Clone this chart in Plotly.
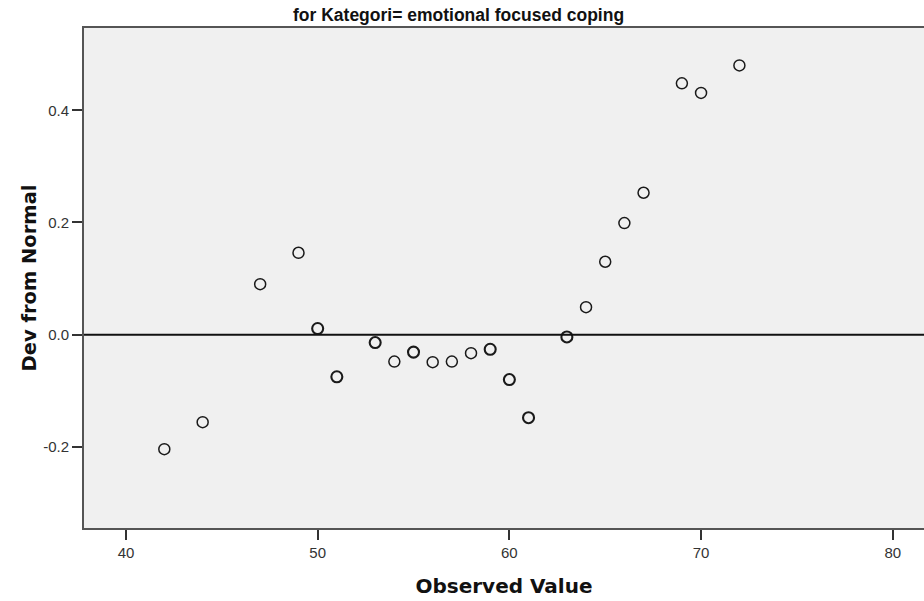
import plotly.graph_objects as go

observed = [42, 44, 47, 49, 50, 51, 53, 54, 55, 56, 57, 58, 59, 60, 61, 63, 64, 65, 66, 67, 69, 70, 72]
dev_from_normal = [-0.204, -0.156, 0.090, 0.146, 0.011, -0.075, -0.014, -0.048, -0.031, -0.049,
                   -0.048, -0.033, -0.026, -0.080, -0.148, -0.004, 0.049, 0.130, 0.199, 0.253,
                   0.448, 0.431, 0.480]
counts = [1, 1, 1, 1, 2, 2, 2, 1, 2, 1, 1, 1, 2, 2, 2, 2, 1, 1, 1, 1, 1, 1, 1]
x_ticks = [40, 50, 60, 70, 80]
y_ticks = [-0.2, 0.0, 0.2, 0.4]
y_tick_text = ["-0.2", "0.0", "0.2", "0.4"]

FONT = "Liberation Sans"
TITLE_FONT = "DejaVu Sans"

fig = go.Figure()
fig.add_trace(go.Scatter(
    x=observed, y=dev_from_normal, mode="markers",
    marker=dict(symbol="circle-open", size=11, color="#1a1a1a",
                line=dict(width=[2.1 if c > 1 else 1.5 for c in counts], color="#1a1a1a")),
    showlegend=False, hoverinfo="x+y",
))

fig.update_layout(
    width=924, height=601,
    margin=dict(l=84, r=0, t=28, b=73),
    paper_bgcolor="white", plot_bgcolor="#f0f0f0",
    font=dict(family=FONT, color="#222"),
    shapes=[dict(type="line", xref="paper", x0=0, x1=1, yref="y", y0=0, y1=0,
                 line=dict(color="#111", width=2), layer="above")],
    annotations=[dict(text="<b>for Kategori= emotional focused coping</b>", xref="paper", yref="paper",
                      x=(458 - 84) / 840, y=1, yshift=1, yanchor="bottom", showarrow=False,
                      font=dict(family=FONT, size=17.5, color="#111"))],
)
fig.update_xaxes(
    range=[37.81, 81.63], tickvals=x_ticks, ticks="outside", ticklen=10, tickwidth=1.5,
    tickcolor="#333", showline=True, linecolor="#555", linewidth=2, mirror=True,
    showgrid=False, zeroline=False, tickfont=dict(size=15, color="#333"),
    title=dict(text="<b>Observed Value</b>", font=dict(family=TITLE_FONT, size=20, color="#111"), standoff=19),
)
fig.update_yaxes(
    range=[-0.3446, 0.5467], tickvals=y_ticks, ticktext=y_tick_text, ticks="outside",
    ticklen=10, tickwidth=1.5, tickcolor="#333", showline=True, linecolor="#555", linewidth=2,
    mirror=False, showgrid=False, zeroline=False, tickfont=dict(size=15, color="#333"),
    title=dict(text="<b>Dev from Normal</b>", font=dict(family=TITLE_FONT, size=19.5, color="#111"), standoff=1),
)
fig.write_html("out.html", config={"displayModeBar": False},
               post_script="document.body.style.margin='0';document.body.style.overflow='hidden';")
